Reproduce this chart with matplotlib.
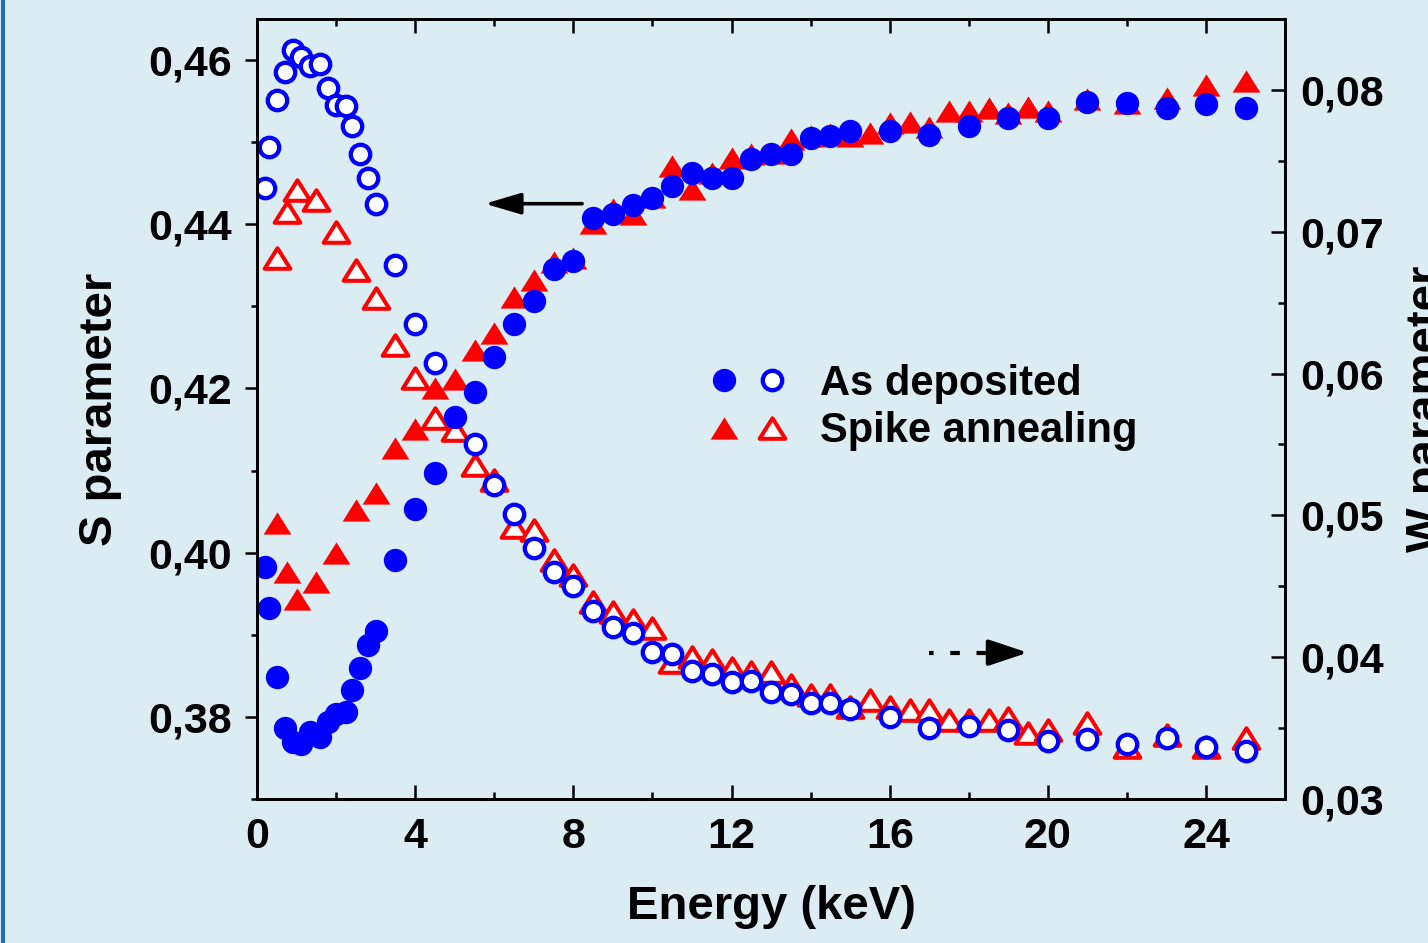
import numpy as np
import matplotlib
matplotlib.use('Agg')
import matplotlib.pyplot as plt
from matplotlib.ticker import MultipleLocator, FuncFormatter
from matplotlib.legend_handler import HandlerTuple
from matplotlib.patches import Rectangle
from matplotlib.path import Path

plt.rcParams['font.family'] = ['Liberation Sans', 'DejaVu Sans']
plt.rcParams['font.weight'] = 'bold'

# As deposited: S (filled circles, left axis)
E_ad_S = [0.2, 0.3, 0.5, 0.7, 0.9, 1.1, 1.35, 1.6, 1.8, 2.0, 2.25, 2.4, 2.6, 2.8, 3.0,
          3.5, 4.0, 4.5, 5.0, 5.5, 6.0, 6.5, 7.0, 7.5, 8.0, 8.5, 9.0, 9.5, 10, 10.5,
          11, 11.5, 12, 12.5, 13, 13.5, 14, 14.5, 15,
          16, 17, 18, 19, 20, 21, 22, 23, 24, 25]
S_ad = [0.3982, 0.3933, 0.3849, 0.3787, 0.3770, 0.3767, 0.3781, 0.3776, 0.3794, 0.3803,
        0.3806, 0.3833, 0.3860, 0.3887, 0.3904,
        0.3991, 0.4053, 0.4097, 0.4165, 0.4196, 0.4238, 0.4279, 0.4307, 0.4346, 0.4355,
        0.4407, 0.4413, 0.4423, 0.4432, 0.4446, 0.4463, 0.4456, 0.4456, 0.4479, 0.4485,
        0.4485, 0.4505, 0.4508, 0.4513,
        0.4513, 0.4509, 0.4520, 0.4529, 0.4529, 0.4549, 0.4548, 0.4542, 0.4546, 0.4542]

# As deposited: W (open circles, right axis)
E_ad_W = [0.2, 0.3, 0.5, 0.7, 0.9, 1.1, 1.35, 1.6, 1.8, 2.0, 2.25, 2.4, 2.6, 2.8, 3.0,
          3.5, 4.0, 4.5, 5.5, 6.0, 6.5, 7.0, 7.5, 8.0, 8.5, 9.0, 9.5, 10, 10.5,
          11, 11.5, 12, 12.5, 13, 13.5, 14, 14.5, 15,
          16, 17, 18, 19, 20, 21, 22, 23, 24, 25]
W_ad = [0.07309, 0.07598, 0.07929, 0.08127, 0.08282, 0.08233, 0.08169, 0.08183, 0.08014,
        0.07894, 0.07887, 0.07746, 0.07549, 0.07380, 0.07196,
        0.06766, 0.06350, 0.06075, 0.05504, 0.05214, 0.05010, 0.04770, 0.04601, 0.04502,
        0.04326, 0.04213, 0.04171, 0.04037, 0.04023, 0.03903, 0.03882, 0.03825, 0.03832,
        0.03755, 0.03741, 0.03677, 0.03677, 0.03635,
        0.03579, 0.03501, 0.03515, 0.03487, 0.03409, 0.03423, 0.03388, 0.03430, 0.03367, 0.03339]

# Spike annealing: S (filled triangles) and W (open triangles)
E_sa = [0.5, 0.75, 1.0, 1.5, 2.0, 2.5, 3.0, 3.5, 4.0, 4.5, 5.0, 5.5, 6.0, 6.5, 7.0, 7.5,
        8.0, 8.5, 9.0, 9.5, 10, 10.5, 11, 11.5, 12, 12.5, 13, 13.5, 14, 14.5, 15, 15.5,
        16, 16.5, 17, 17.5, 18, 18.5, 19, 19.5, 20, 21, 22, 23, 24, 25]
S_sa = [0.4036, 0.3977, 0.3943, 0.3964, 0.4000, 0.4052, 0.4073, 0.4128, 0.4151, 0.4200,
        0.4212, 0.4247, 0.4268, 0.4311, 0.4332, 0.4354, 0.4359, 0.4401, 0.4419, 0.4413,
        0.4433, 0.4471, 0.4443, 0.4462, 0.4481, 0.4486, 0.4487, 0.4504, 0.4508, 0.4510,
        0.4508, 0.4511, 0.4523, 0.4524, 0.4518, 0.4538, 0.4538, 0.4541, 0.4536, 0.4543,
        0.4538, 0.4553, 0.4548, 0.4554, 0.4569, 0.4575]
W_sa = [0.06815, 0.07140, 0.07295, 0.07224, 0.06999, 0.06731, 0.06530, 0.06202, 0.05969,
        0.05687, 0.05602, 0.05355, 0.05250, 0.04918, 0.04897, 0.04686, 0.04580, 0.04389,
        0.04319, 0.04262, 0.04206, 0.03966, 0.04001, 0.03980, 0.03924, 0.03896, 0.03896,
        0.03804, 0.03733, 0.03733, 0.03649, 0.03698, 0.03649, 0.03628, 0.03628, 0.03557,
        0.03557, 0.03557, 0.03571, 0.03466, 0.03487, 0.03536, 0.03367, 0.03452, 0.03367,
        0.03430]

labels = ['As deposited', 'Spike annealing']

BG = '#dbecf2'
BLUE = '#0000ff'
RED = '#ff0000'
tri = Path([(0, 0.8), (-1, -0.8), (1, -0.8), (0, 0.8)], closed=True)

fig = plt.figure(figsize=(14.28, 9.43), dpi=100, facecolor=BG)
fig.add_artist(Rectangle((0.0007, 0), 0.0028, 1, transform=fig.transFigure,
                         color='#1c6fbf', lw=0))
ax = fig.add_axes([0.18, 0.1527, 0.72, 0.8272])
ax2 = ax.twinx()
ax.set_zorder(ax2.get_zorder() + 1)
ax.patch.set_visible(False)
ax2.patch.set_visible(False)

l_sa_w, = ax2.plot(E_sa, W_sa, ls='none', marker=tri, ms=18.5, mfc='white', mec=RED, mew=2.9)
ax2.plot(E_ad_W, W_ad, ls='none', marker='o', ms=14, mfc='white', mec=BLUE, mew=3.1)
l_ad_w, = ax.plot([], [], ls='none', marker='o', ms=14, mfc='white', mec=BLUE, mew=3.1)
l_sa_s, = ax.plot(E_sa, S_sa, ls='none', marker=tri, ms=20, mfc=RED, mec=RED, mew=0)
l_ad_s, = ax.plot(E_ad_S, S_ad, ls='none', marker='o', ms=16.8, mfc=BLUE, mec=BLUE, mew=0)

ax.set_xlim(0, 26)
ax.set_ylim(0.37, 0.465)
ax2.set_ylim(0.03, 0.085)

comma = FuncFormatter(lambda v, p: f'{v:.2f}'.replace('.', ','))
ax.xaxis.set_major_locator(MultipleLocator(4))
ax.xaxis.set_minor_locator(MultipleLocator(2))
ax.yaxis.set_major_locator(MultipleLocator(0.02))
ax.yaxis.set_minor_locator(MultipleLocator(0.01))
ax.yaxis.set_major_formatter(comma)
ax2.yaxis.set_major_locator(MultipleLocator(0.01))
ax2.yaxis.set_minor_locator(MultipleLocator(0.005))
ax2.yaxis.set_major_formatter(comma)

for a in (ax, ax2):
    for s in a.spines.values():
        s.set_linewidth(2)

ax.tick_params(axis='x', which='both', direction='in', top=True, width=1.8,
               labelsize=31, pad=13)
ax.tick_params(axis='x', which='major', length=10)
ax.tick_params(axis='x', which='minor', length=5)
ax.tick_params(axis='y', which='both', direction='out', right=False, width=1.8,
               labelsize=31, pad=9)
ax.tick_params(axis='y', which='major', length=9)
ax.tick_params(axis='y', which='minor', length=4)
ax2.tick_params(axis='y', which='both', direction='in', width=1.8, labelsize=31, pad=11)
ax2.tick_params(axis='y', which='major', length=10)
ax2.tick_params(axis='y', which='minor', length=5)

ax.set_xlabel('Energy (keV)', fontsize=34, fontweight='bold', labelpad=20)
ax.set_ylabel('S parameter', fontsize=34, fontweight='bold', labelpad=19)
ax2.set_ylabel('W parameter', fontsize=34, fontweight='bold', labelpad=15)

# arrows pointing to the relevant axes
ax.annotate('', xy=(5.76, 0.4425), xytext=(8.22, 0.4425),
            arrowprops=dict(arrowstyle='-|>,head_length=2.2,head_width=0.65',
                            lw=2.6, color='k', shrinkA=0, shrinkB=0))
ax2.plot([17.0, 18.6], [0.04032, 0.04032], color='k', lw=3,
         linestyle=(1.2, (2.3, 4.0)))
ax2.annotate('', xy=(19.49, 0.04032), xytext=(18.6, 0.04032),
             arrowprops=dict(arrowstyle='-|>,head_length=2.4,head_width=0.8',
                             lw=3, color='k', shrinkA=0, shrinkB=0))

leg = ax.legend([(l_ad_s, l_ad_w), (l_sa_s, l_sa_w)], labels,
                handler_map={tuple: HandlerTuple(ndivide=None, pad=0)},
                loc='upper left', bbox_to_anchor=(700 / 1428, 1 - 364 / 943),
                bbox_transform=fig.transFigure, frameon=False,
                prop={'size': 30, 'weight': 'bold'}, handlelength=2.3,
                handletextpad=0.58, labelspacing=0.17, borderpad=0,
                borderaxespad=0, numpoints=1)

fig.savefig('out.png', dpi=100, facecolor=BG)
